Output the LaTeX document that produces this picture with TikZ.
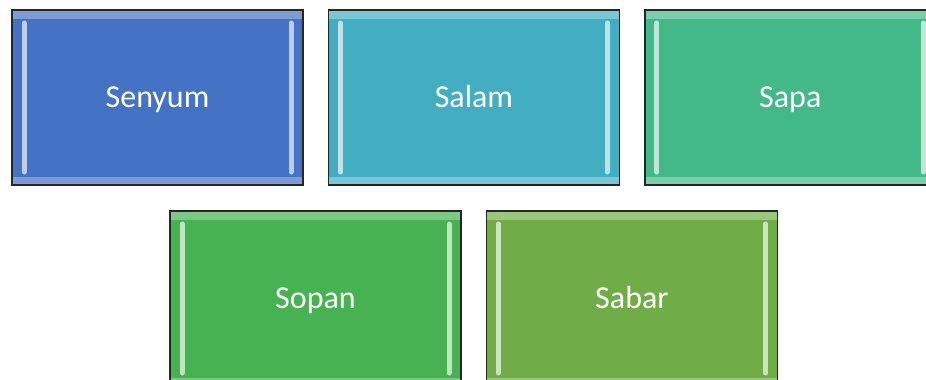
\documentclass[tikz,border=0pt]{standalone}
\usepackage{fontspec}
\setmainfont{Carlito}
\usepackage{xcolor}
\usepackage{tikz}
\usetikzlibrary{positioning}

\definecolor{senyumblue}{HTML}{4472C4}
\definecolor{salamteal}{HTML}{43ADC1}
\definecolor{sapagreen}{HTML}{43B98A}
\definecolor{sopangreen}{HTML}{47B251}
\definecolor{sabargreen}{HTML}{70AD47}

\begin{document}
\begin{tikzpicture}[
    x = 1pt, y = 1pt,
    tile/.style = {draw=black!85, line width=1.4pt, fill=#1,
      minimum width=291pt, minimum height=175pt, inner sep=0pt,
      text height=20pt, text depth=0pt,
      text=white, font=\fontsize{32}{38}\selectfont,
      path picture={
        % top and bottom rims
        \fill[#1!70!white] (path picture bounding box.north west)
          rectangle ([yshift=-8.5pt]path picture bounding box.north east);
        \fill[#1!70!white] (path picture bounding box.south west)
          rectangle ([yshift=8.5pt]path picture bounding box.south east);
        % side bars
        \draw[#1!35!white, line width=5pt, line cap=round]
          ([shift={(12pt,-13pt)}]path picture bounding box.north west)
          -- ([shift={(12pt,13pt)}]path picture bounding box.south west);
        \draw[#1!35!white, line width=5pt, line cap=round]
          ([shift={(-12pt,-13pt)}]path picture bounding box.north east)
          -- ([shift={(-12pt,13pt)}]path picture bounding box.south east);
      }}
  ]
  \useasboundingbox (0,0) rectangle (926,-380);
  \clip (0,0) rectangle (926,-380);

  % top row
  \node[tile=senyumblue] (senyum) at (157.5,-97.5) {Senyum};
  \node[tile=salamteal, right=24pt of senyum] (salam) {Salam};
  \node[tile=sapagreen, right=24pt of salam] (sapa) {Sapa};

  % bottom row
  \node[tile=sopangreen] (sopan) at (315.5,-298.5) {Sopan};
  \node[tile=sabargreen, right=24pt of sopan] (sabar) {Sabar};
\end{tikzpicture}
\end{document}
